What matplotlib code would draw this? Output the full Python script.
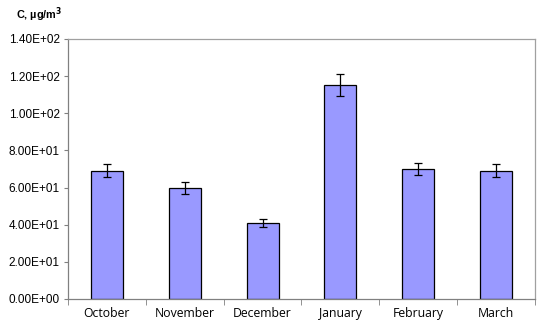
import matplotlib.pyplot as plt
import numpy as np

# Monthly mean concentrations with error bars
months = ["October", "November", "December", "January", "February", "March"]
conc = [69.1, 59.8, 40.8, 115.3, 70.0, 69.1]
err = [3.6, 3.1, 2.2, 5.8, 3.4, 3.5]

fig = plt.figure(figsize=(5.5, 3.31), dpi=100)
ax = fig.add_axes([0.1236, 0.0967, 0.8491, 0.7855])

x = np.arange(len(months))
ax.bar(x, conc, width=0.41, color="#9999FF", edgecolor="black", linewidth=0.9, zorder=2)
ax.errorbar(x, conc, yerr=err, fmt="none", ecolor="black", elinewidth=0.9,
            capsize=3, capthick=0.9, zorder=3)

ax.set_xlim(-0.5, len(months) - 0.5)
ax.set_ylim(0, 140)
ax.set_yticks(np.arange(0, 141, 20))
ax.set_yticklabels([f"{v:.2E}" for v in np.arange(0, 141, 20)],
                   fontfamily="Liberation Sans", fontsize=8.5)

# category labels centred, ticks at category boundaries
ax.set_xticks(x)
ax.set_xticklabels(months, fontfamily="Open Sans", fontsize=8.8)
ax.tick_params(axis="x", length=0, pad=6)
ax.set_xticks(np.arange(-0.5, len(months)), minor=True)
ax.tick_params(axis="x", which="minor", length=4, color="#808080", direction="out")
ax.tick_params(axis="y", length=3, color="#808080", direction="out", pad=3)

ax.spines["left"].set_color("#808080")
ax.spines["bottom"].set_color("#808080")
ax.spines["top"].set_color("#a0a0a0")
ax.spines["right"].set_color("#a0a0a0")
for s in ax.spines.values():
    s.set_linewidth(0.9)

fig.text(0.029, 0.955, r"C, µg/m$^\mathbf{3}$", fontfamily="Liberation Sans",
         fontsize=7.8, fontweight="bold", va="center", ha="left")

fig.savefig("out.png", dpi=100)
